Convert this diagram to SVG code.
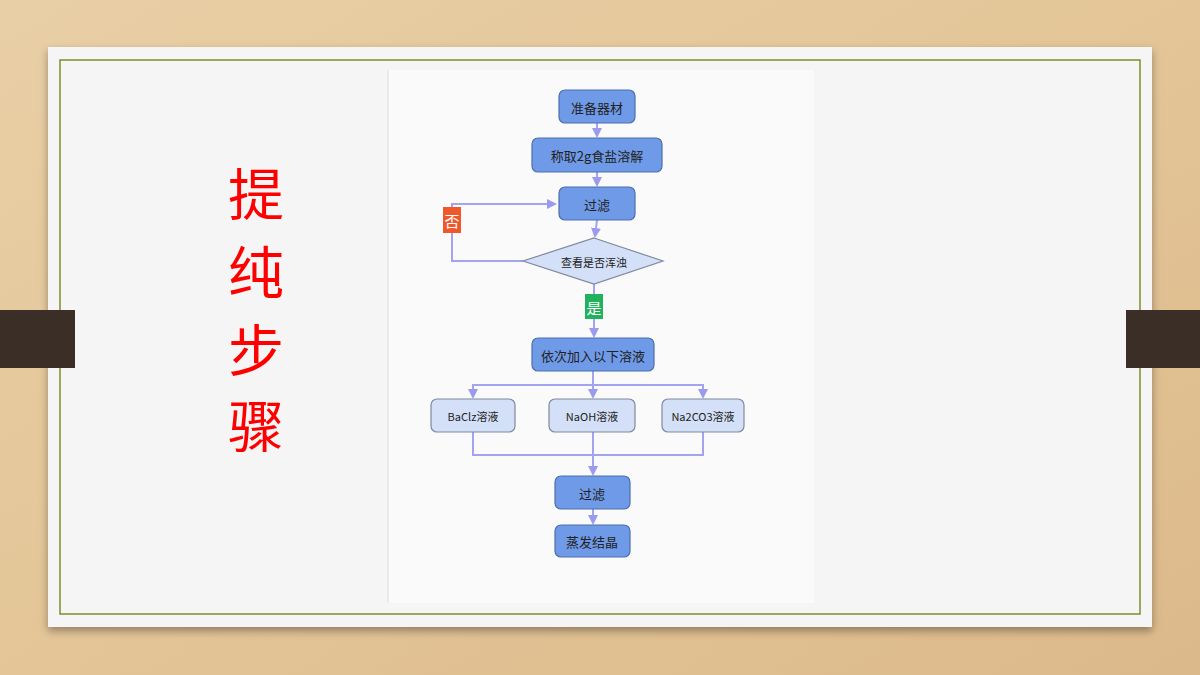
<svg xmlns="http://www.w3.org/2000/svg" width="1200" height="675" viewBox="0 0 1200 675">
<defs>
<linearGradient id="wood" x1="0" y1="0" x2="1" y2="1"><stop offset="0" stop-color="#e9cfa6"/><stop offset="0.5" stop-color="#e3c597"/><stop offset="1" stop-color="#dcb98a"/></linearGradient>
<filter id="sh" x="-5%" y="-5%" width="110%" height="115%"><feDropShadow dx="0" dy="4" stdDeviation="4" flood-opacity="0.35"/></filter>
<marker id="ah" markerWidth="10" markerHeight="10" refX="8" refY="5" orient="auto" markerUnits="userSpaceOnUse"><path d="M0,0 L10,5 L0,10 z" fill="#9a9af0"/></marker>
</defs>
<style>
.n{fill:#6f9ae8;stroke:#4d6fae;stroke-width:1.2}
.l{fill:#d3e0f7;stroke:#7d8aa0;stroke-width:1.2}
.t{font-family:"Noto Sans CJK SC","Noto Sans",sans-serif;font-size:13px;fill:#222;text-anchor:middle;dominant-baseline:central}
.ts{font-size:11px}
.c{fill:none;stroke:#a3a3f0;stroke-width:2}
</style>
<rect width="1200" height="675" fill="url(#wood)"/>
<rect x="48" y="47" width="1104" height="580" fill="#f5f5f5" filter="url(#sh)"/>
<rect x="60" y="60" width="1080" height="554" fill="none" stroke="#7c8f2c" stroke-width="1.5"/>
<rect x="0" y="310" width="75" height="58" fill="#3a2e26"/>
<rect x="1126" y="310" width="74" height="58" fill="#3a2e26"/>
<rect x="388" y="70" width="426" height="533" fill="#fafafa"/>
<line x1="388" y1="70" x2="388" y2="603" stroke="#ddd"/>
<g font-family="'Noto Sans CJK SC',sans-serif" font-size="56" fill="#ff0000" text-anchor="middle">
<text x="256" y="215">提</text><text x="256" y="293">纯</text><text x="256" y="371">步</text><text x="256" y="447">骤</text>
</g>
<g id="connectors">
<line class="c" x1="597" y1="123" x2="597" y2="136" marker-end="url(#ah)"/>
<line class="c" x1="597" y1="172" x2="597" y2="185" marker-end="url(#ah)"/>
<line class="c" x1="597" y1="220" x2="595" y2="236" marker-end="url(#ah)"/>
<polyline class="c" points="523,261 452,261 452,204 555,204" marker-end="url(#ah)"/>
<polyline class="c" points="594,284 594,336" marker-end="url(#ah)"/>
<line class="c" x1="593" y1="371" x2="593" y2="397" marker-end="url(#ah)"/>
<polyline class="c" points="473,397 473,385 703,385 703,397" marker-end="url(#ah)"/>
<line class="c" x1="473" y1="385" x2="473" y2="397" marker-end="url(#ah)"/>
<polyline class="c" points="473,432 473,455 703,455 703,432"/>
<line class="c" x1="593" y1="432" x2="593" y2="474" marker-end="url(#ah)"/>
<line class="c" x1="593" y1="509" x2="593" y2="523" marker-end="url(#ah)"/>
</g>
<g id="n1"><rect class="n" x="559" y="90" width="76" height="33" rx="6"/><text class="t" x="597" y="107">准备器材</text></g>
<g id="n2"><rect class="n" x="532" y="138" width="130" height="34" rx="6"/><text class="t" x="597" y="155">称取2g食盐溶解</text></g>
<g id="n3"><rect class="n" x="559" y="187" width="76" height="33" rx="6"/><text class="t" x="597" y="204">过滤</text></g>
<g id="n4"><polygon points="594,238 663,261 594,284 523,261" fill="#d3e0f7" stroke="#7d8aa0" stroke-width="1.2"/><text class="t ts" x="594" y="262">查看是否浑浊</text></g>
<g id="no"><rect x="443" y="207" width="18" height="26" fill="#f0572a"/><text class="t" x="452" y="220" style="fill:#fff;font-size:15px">否</text></g>
<g id="yes"><rect x="585" y="294" width="18" height="25" fill="#22b25e"/><text class="t" x="594" y="307" style="fill:#fff;font-size:15px">是</text></g>
<g id="n5"><rect class="n" x="532" y="338" width="122" height="33" rx="6"/><text class="t" x="593" y="355">依次加入以下溶液</text></g>
<g id="n6"><rect class="l" x="431" y="399" width="84" height="33" rx="6"/><text class="t ts" x="473" y="416">BaClz溶液</text></g>
<g id="n7"><rect class="l" x="549" y="399" width="86" height="33" rx="6"/><text class="t ts" x="592" y="416">NaOH溶液</text></g>
<g id="n8"><rect class="l" x="662" y="399" width="82" height="33" rx="6"/><text class="t ts" x="703" y="416">Na2CO3溶液</text></g>
<g id="n9"><rect class="n" x="555" y="476" width="75" height="33" rx="6"/><text class="t" x="592" y="493">过滤</text></g>
<g id="n10"><rect class="n" x="555" y="525" width="75" height="32" rx="6"/><text class="t" x="592" y="541">蒸发结晶</text></g>
</svg>
